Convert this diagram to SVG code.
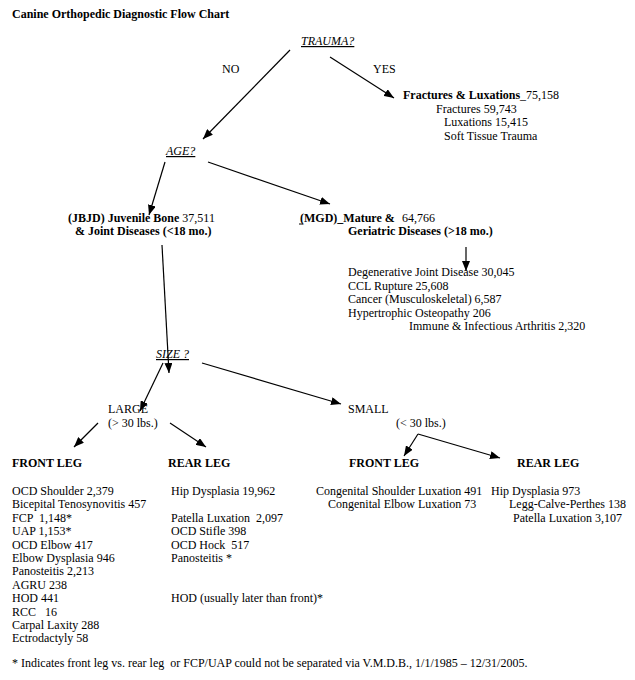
<svg xmlns="http://www.w3.org/2000/svg" width="635" height="680" viewBox="0 0 635 680">
<defs>
<style>
text{font-family:"Liberation Serif","Times New Roman",serif;font-size:12px;fill:#000}
.b{font-weight:bold}
.q{font-style:italic;text-decoration:underline}
.c line{stroke:#000;stroke-width:1.2;marker-end:url(#ah)}
</style>
<marker id="ah" markerUnits="userSpaceOnUse" markerWidth="10" markerHeight="8" refX="10" refY="4" orient="auto">
<path d="M0,0 L10,4 L0,8 z" fill="#000"/>
</marker>
</defs>
<rect width="635" height="680" fill="#fff"/>
<text class="b" x="12" y="18">Canine Orthopedic Diagnostic Flow Chart</text>

<g id="connectors" class="c">
<line x1="290" y1="50" x2="203" y2="139"/>
<line x1="330" y1="57" x2="394" y2="98"/>
<line x1="165" y1="162" x2="149" y2="215"/>
<line x1="208" y1="162" x2="330" y2="204"/>
<line x1="466" y1="247" x2="466" y2="271"/>
<line x1="162" y1="245" x2="169" y2="373"/>
<line x1="163" y1="363" x2="140" y2="411"/>
<line x1="202" y1="363" x2="341" y2="404"/>
<line x1="98" y1="423" x2="74" y2="447"/>
<line x1="170" y1="423" x2="206" y2="447"/>
<line x1="418" y1="434" x2="404" y2="456"/>
<line x1="418" y1="434" x2="500" y2="458"/>
</g>

<g id="trauma"><text class="q" x="301" y="45">TRAUMA?</text></g>
<g id="no"><text x="222" y="73">NO</text></g>
<g id="yes"><text x="373" y="73">YES</text></g>

<g id="fractures">
<text x="403" y="99"><tspan class="b">Fractures &amp; Luxations</tspan>_75,158</text>
<text x="436" y="113">Fractures 59,743</text>
<text x="444" y="126">Luxations 15,415</text>
<text x="444" y="140">Soft Tissue Trauma</text>
</g>

<g id="age"><text class="q" x="166" y="155">AGE?</text></g>

<g id="jbjd">
<text x="68" y="222"><tspan class="b">(JBJD) Juvenile Bone</tspan> 37,511</text>
<text class="b" x="75" y="235">&amp; Joint Diseases (&lt;18 mo.)</text>
</g>

<g id="mgd">
<text x="300" y="222"><tspan class="b">(MGD)_Mature &amp;</tspan><tspan x="402">64,766</tspan></text>
<line x1="299" y1="224" x2="303" y2="224" stroke="#000" stroke-width="1"/>
<text class="b" x="348" y="235">Geriatric Diseases (&gt;18 mo.)</text>
</g>

<g id="mgd-list">
<text x="348" y="276">Degenerative Joint Disease 30,045</text>
<text x="348" y="290">CCL Rupture 25,608</text>
<text x="348" y="303">Cancer (Musculoskeletal) 6,587</text>
<text x="348" y="317">Hypertrophic Osteopathy 206</text>
<text x="409" y="330">Immune &amp; Infectious Arthritis 2,320</text>
</g>

<g id="size"><text class="q" x="156" y="358">SIZE ?</text></g>

<g id="large">
<text x="108" y="413">LARGE</text>
<text x="108" y="427">(&gt; 30 lbs.)</text>
</g>

<g id="small">
<text x="348" y="413">SMALL</text>
<text x="396" y="427">(&lt; 30 lbs.)</text>
</g>

<g id="large-front">
<text class="b" x="12" y="467">FRONT LEG</text>
<text x="12" y="495">OCD Shoulder 2,379</text>
<text x="12" y="508.4">Bicepital Tenosynovitis 457</text>
<text x="12" y="521.8" xml:space="preserve">FCP  1,148*</text>
<text x="12" y="535.2">UAP 1,153*</text>
<text x="12" y="548.6">OCD Elbow 417</text>
<text x="12" y="562">Elbow Dysplasia 946</text>
<text x="12" y="575.4">Panosteitis 2,213</text>
<text x="12" y="588.8">AGRU 238</text>
<text x="12" y="602.2">HOD 441</text>
<text x="12" y="615.6" xml:space="preserve">RCC   16</text>
<text x="12" y="629">Carpal Laxity 288</text>
<text x="12" y="642.4">Ectrodactyly 58</text>
</g>

<g id="large-rear">
<text class="b" x="168" y="467">REAR LEG</text>
<text x="171" y="495">Hip Dysplasia 19,962</text>
<text x="171" y="521.8" xml:space="preserve">Patella Luxation  2,097</text>
<text x="171" y="535.2">OCD Stifle 398</text>
<text x="171" y="548.6" xml:space="preserve">OCD Hock  517</text>
<text x="171" y="562">Panosteitis *</text>
<text x="171" y="602.2">HOD (usually later than front)*</text>
</g>

<g id="small-front">
<text class="b" x="349" y="467">FRONT LEG</text>
<text x="316" y="495">Congenital Shoulder Luxation 491</text>
<text x="328" y="508.4">Congenital Elbow Luxation 73</text>
</g>

<g id="small-rear">
<text class="b" x="517" y="467">REAR LEG</text>
<text x="491" y="495">Hip Dysplasia 973</text>
<text x="509" y="508.4">Legg-Calve-Perthes 138</text>
<text x="513" y="521.8">Patella Luxation 3,107</text>
</g>

<text x="12" y="667" xml:space="preserve">* Indicates front leg vs. rear leg  or FCP/UAP could not be separated via V.M.D.B., 1/1/1985 – 12/31/2005.</text>
</svg>
